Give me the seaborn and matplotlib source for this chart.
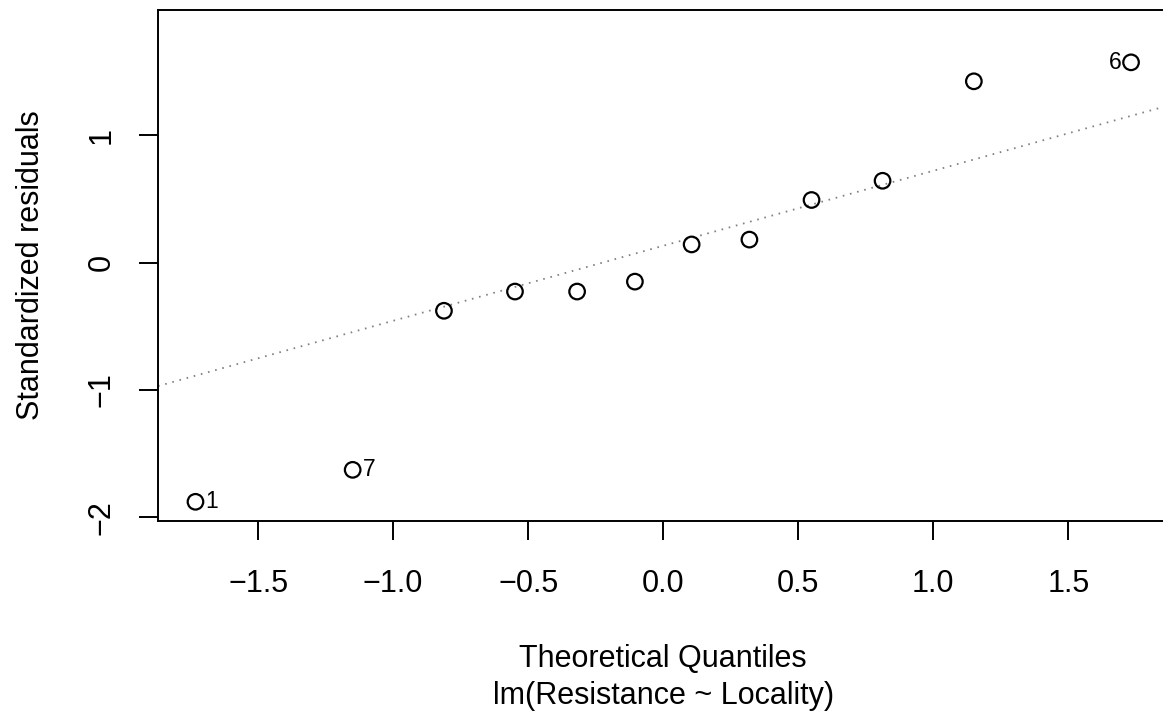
"""
normal Q-Q plot of standardized residuals for lm(Resistance ~ Locality)
"""

import matplotlib
matplotlib.use("Agg")
import matplotlib.pyplot as plt
import numpy as np
import pandas as pd
import seaborn as sns

# theoretical quantiles and sorted standardized residuals
theo_q = [-1.732, -1.150, -0.812, -0.549, -0.319, -0.105,
          0.105, 0.319, 0.549, 0.812, 1.150, 1.732]
std_resid = [-1.878, -1.627, -0.378, -0.227, -0.227, -0.149,
             0.143, 0.181, 0.492, 0.643, 1.424, 1.573]
# observation ids shown next to the three most extreme points
point_ids = ["1", "7", "", "", "", "", "", "", "", "", "", "6"]

x_ticks = [-1.5, -1.0, -0.5, 0.0, 0.5, 1.0, 1.5]
x_tick_labels = ["\u22121.5", "\u22121.0", "\u22120.5", "0.0", "0.5", "1.0", "1.5"]
y_ticks = [-2, -1, 0, 1]
y_tick_labels = ["\u22122", "\u22121", "0", "1"]

df = pd.DataFrame({"theo": theo_q, "resid": std_resid, "id": point_ids})

sns.set_theme(style="ticks")
plt.rcParams["font.family"] = ["Liberation Sans", "DejaVu Sans"]
plt.rcParams["text.color"] = "black"
plt.rcParams["axes.labelcolor"] = "black"

fig = plt.figure(figsize=(11.63, 7.18), dpi=100)
ax = fig.add_axes([0.1359, 0.2748, 0.8688, 0.7106])

# qqline: through the first and third quartiles
q1, q3 = np.quantile(df.resid, [0.25, 0.75])
z1, z3 = -0.6745, 0.6745
slope = (q3 - q1) / (z3 - z1)
intercept = q1 - slope * z1
ax.axline((0, intercept), slope=slope, color="#808080",
          linestyle=(0, (0.9, 3.2)), linewidth=1.3, zorder=1)

sns.scatterplot(data=df, x="theo", y="resid", ax=ax, marker="o", s=125,
                facecolor="none", edgecolor="black", linewidth=1.6, zorder=3)

for _, row in df[df.id != ""].iterrows():
    if row.theo < 0:
        ax.annotate(row.id, (row.theo, row.resid), xytext=(7, 0),
                    textcoords="offset points", ha="left", va="center",
                    fontsize=16.5, color="black")
    else:
        ax.annotate(row.id, (row.theo, row.resid), xytext=(-7, 0),
                    textcoords="offset points", ha="right", va="center",
                    fontsize=16.5, color="black")

# R style limits: 4% padding, with extra headroom on top for labels
xr = df.theo.max() - df.theo.min()
ax.set_xlim(df.theo.min() - 0.04 * xr, df.theo.max() + 0.04 * xr)
ylo, yhi = df.resid.min(), df.resid.max()
yhi = yhi + (yhi - ylo) * 0.075
yr = yhi - ylo
ax.set_ylim(ylo - 0.04 * yr, yhi + 0.04 * yr)

ax.set_xticks(x_ticks)
ax.set_xticklabels(x_tick_labels)
ax.set_yticks(y_ticks)
ax.set_yticklabels(y_tick_labels, rotation=90, va="center")
ax.tick_params(axis="both", length=14, width=1.4, color="black",
               labelsize=22, labelcolor="black")
ax.tick_params(axis="x", pad=21)
ax.tick_params(axis="y", pad=16)

for sp in ax.spines.values():
    sp.set_visible(True)
    sp.set_linewidth(1.4)
    sp.set_color("black")

ax.set_xlabel("Theoretical Quantiles\nlm(Resistance ~ Locality)",
              fontsize=22, linespacing=1.3, labelpad=32, color="black")
ax.set_ylabel("Standardized residuals", fontsize=22, labelpad=29,
              color="black")

fig.savefig("out.png", dpi=100)
